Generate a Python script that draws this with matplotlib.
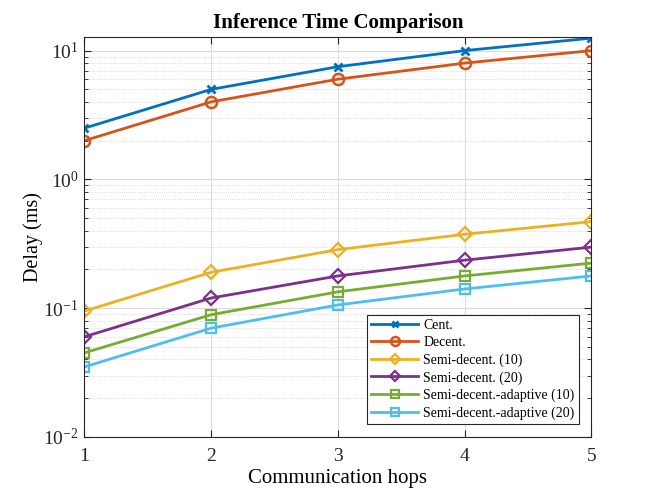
import matplotlib
matplotlib.use('Agg')
import matplotlib.pyplot as plt
from matplotlib.ticker import LogLocator, NullFormatter

plt.rcParams['font.family'] = ['Liberation Serif', 'DejaVu Serif']
plt.rcParams['mathtext.fontset'] = 'custom'
plt.rcParams['mathtext.rm'] = 'Liberation Serif'
plt.rcParams['mathtext.it'] = 'Liberation Serif:italic'

# Data
hops = [1, 2, 3, 4, 5]
cent = [2.5, 5.0, 7.5, 10.0, 12.5]
decent = [2.0, 4.0, 6.0, 8.0, 10.0]
semi10 = [0.095, 0.19, 0.285, 0.375, 0.47]
semi20 = [0.06, 0.12, 0.178, 0.236, 0.298]
adapt10 = [0.045, 0.089, 0.134, 0.178, 0.224]
adapt20 = [0.035, 0.07, 0.106, 0.141, 0.178]

fig = plt.figure(figsize=(6.54, 4.91), dpi=100)
ax = fig.add_axes([0.129, 0.110, 0.775, 0.815])

lw = 2.0
ax.plot(hops, cent, '-x', color='#0072BD', lw=lw, ms=6, mew=2, label='Cent.')
ax.plot(hops, decent, '-o', color='#D95319', lw=lw, ms=8, mew=1.8, mfc='none', label='Decent.')
ax.plot(hops, semi10, '-D', color='#EDB120', lw=lw, ms=7, mew=1.6, mfc='none', label='Semi-decent. (10)')
ax.plot(hops, semi20, '-D', color='#7E2F8E', lw=lw, ms=7, mew=1.6, mfc='none', label='Semi-decent. (20)')
ax.plot(hops, adapt10, '-s', color='#77AC30', lw=lw, ms=7, mew=1.6, mfc='none', label='Semi-decent.-adaptive (10)')
ax.plot(hops, adapt20, '-s', color='#4DBEEE', lw=lw, ms=7, mew=1.6, mfc='none', label='Semi-decent.-adaptive (20)')

ax.set_yscale('log')
ax.set_xlim(1, 5)
ax.set_ylim(1e-2, 12.8)
ax.set_xticks(hops)
ax.yaxis.set_major_locator(LogLocator(base=10, numticks=10))
ax.yaxis.set_minor_locator(LogLocator(base=10, subs=range(2, 10), numticks=20))
ax.yaxis.set_minor_formatter(NullFormatter())

ax.grid(True, which='major', color='#dcdcdc', lw=0.8)
ax.grid(True, which='minor', axis='y', color='#d0d0d0', lw=0.6, ls=':')
ax.set_axisbelow(True)
ax.tick_params(which='both', direction='in', top=True, right=True, labelsize=14, colors='#262626')
ax.tick_params(which='major', length=5)
ax.tick_params(which='minor', length=3)
ax.tick_params(axis='x', pad=8)
ax.tick_params(axis='y', pad=4)
for s in ax.spines.values():
    s.set_color('#262626')
    s.set_linewidth(0.8)

ax.set_title('Inference Time Comparison', fontsize=15, fontweight='bold', pad=6)
ax.set_xlabel('Communication hops', fontsize=15, labelpad=3)
ax.set_ylabel('Delay (ms)', fontsize=14.5)
ax.yaxis.set_label_coords(-0.082, 0.5)

leg = ax.legend(loc='lower right', bbox_to_anchor=(0.975, 0.0325), borderaxespad=0,
                fontsize=10, fancybox=False, framealpha=1, edgecolor='#262626',
                borderpad=0.3, labelspacing=0.3, handlelength=3.4, handletextpad=0.35,
                markerscale=0.8)
leg.get_frame().set_linewidth(0.8)

fig.savefig('out.png', dpi=100)
